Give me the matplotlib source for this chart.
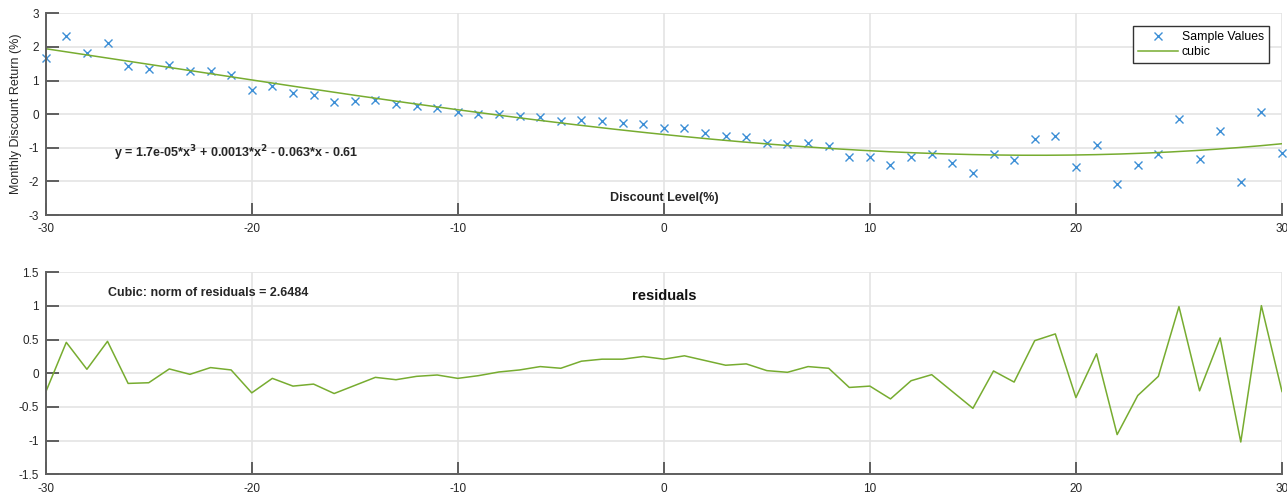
import numpy as np
import matplotlib
matplotlib.use("Agg")
import matplotlib.pyplot as plt

plt.rcParams['font.family'] = ['Liberation Sans', 'DejaVu Sans']
plt.rcParams['axes.unicode_minus'] = False

# ---- data ----
discount = list(range(-30, 31))
sample_values = [
    1.66, 2.32, 1.81, 2.12, 1.43, 1.34, 1.46, 1.28, 1.28, 1.16,
    0.71, 0.83, 0.62, 0.56, 0.35, 0.40, 0.43, 0.31, 0.24, 0.19,
    0.06, 0.00, 0.00, -0.05, -0.08, -0.20, -0.16, -0.20, -0.27, -0.30,
    -0.41, -0.41, -0.56, -0.66, -0.69, -0.85, -0.90, -0.87, -0.94, -1.27,
    -1.27, -1.50, -1.27, -1.19, -1.45, -1.75, -1.19, -1.37, -0.73, -0.645,
    -1.57, -0.92, -2.09, -1.51, -1.19, -0.15, -1.34, -0.50, -2.01, 0.06,
    -1.15,
]
residuals = [
    -0.28, 0.46, 0.06, 0.475, -0.15, -0.14, 0.065, -0.015, 0.085, 0.05,
    -0.29, -0.075, -0.19, -0.16, -0.30, -0.18, -0.06, -0.095, -0.045, -0.025,
    -0.075, -0.035, 0.02, 0.05, 0.10, 0.075, 0.18, 0.21, 0.21, 0.25,
    0.21, 0.26, 0.19, 0.12, 0.14, 0.04, 0.015, 0.10, 0.075, -0.21,
    -0.19, -0.38, -0.11, -0.02, -0.27, -0.52, 0.035, -0.13, 0.485, 0.585,
    -0.36, 0.29, -0.91, -0.33, -0.045, 0.99, -0.26, 0.525, -1.02, 1.005,
    -0.27,
]
x_ticks = [-30, -20, -10, 0, 10, 20, 30]
x_tick_labels = ['-30', '-20', '-10', '0', '10', '20', '30']
y1_ticks = [-3, -2, -1, 0, 1, 2, 3]
y1_tick_labels = ['-3', '-2', '-1', '0', '1', '2', '3']
y2_ticks = [-1.5, -1, -0.5, 0, 0.5, 1, 1.5]
y2_tick_labels = ['-1.5', '-1', '-0.5', '0', '0.5', '1', '1.5']
equation_text = r'y = 1.7e-05*x$^{\mathbf{3}}$ + 0.0013*x$^{\mathbf{2}}$ - 0.063*x - 0.61'
norm_text = 'Cubic: norm of residuals = 2.6484'

BLUE = '#3d8fd6'
GREEN = '#77ac30'
SPINE = '#5e5e5e'
GRID = '#e4e4e4'
TXT = '#262626'

fig = plt.figure(figsize=(12.87, 4.96), dpi=100)
ax1 = fig.add_axes([0.0355, 0.5665, 0.9606, 0.4067])
ax2 = fig.add_axes([0.0355, 0.0437, 0.9606, 0.4073])


def style(ax, yt, ytl):
    ax.set_xlim(-30, 30)
    ax.set_xticks(x_ticks)
    ax.set_xticklabels(x_tick_labels)
    ax.set_yticks(yt)
    ax.set_yticklabels(ytl)
    ax.set_ylim(yt[0], yt[-1])
    for s in ['top', 'right']:
        ax.spines[s].set_visible(False)
    for s in ['left', 'bottom']:
        ax.spines[s].set_color(SPINE)
        ax.spines[s].set_linewidth(1.4)
    ax.tick_params(direction='in', length=9, width=1.4, color=SPINE,
                   labelcolor=TXT, labelsize=8.5)
    ax.tick_params(axis='x', pad=6)
    ax.tick_params(axis='y', pad=5)
    ax.set_axisbelow(True)
    ax.grid(True, color=GRID, linewidth=1.2)


# ---- top panel ----
style(ax1, y1_ticks, y1_tick_labels)
coef = np.polyfit(discount, sample_values, 3)
xs = np.linspace(-30, 30, 400)
ax1.plot(discount, sample_values, linestyle='none', marker='x', color=BLUE,
         markersize=6, markeredgewidth=1.0, label='Sample Values', clip_on=False)
ax1.plot(xs, np.polyval(coef, xs), color=GREEN, linewidth=1.1, label='cubic')
ax1.text(-26.7, -1.17, equation_text, fontsize=9, fontweight='bold',
         ha='left', va='center', color=TXT)
ax1.text(0, -2.48, 'Discount Level(%)', fontsize=9, fontweight='bold',
         ha='center', va='center', color=TXT)
ax1.set_ylabel('Monthly Discount Return (%)', fontsize=9, color=TXT)
ax1.yaxis.set_label_coords(-0.0192, 0.5)
leg = ax1.legend(loc='upper right', bbox_to_anchor=(0.9895, 0.937),
                 borderaxespad=0, fontsize=8.8, fancybox=False, framealpha=1,
                 edgecolor='#333333', handlelength=3.3, handletextpad=0.3,
                 labelspacing=0.25, borderpad=0.4)
leg.get_frame().set_linewidth(1.0)

# ---- bottom panel ----
style(ax2, y2_ticks, y2_tick_labels)
ax2.plot(discount, residuals, color=GREEN, linewidth=1.1)
ax2.text(-26.96, 1.20, norm_text, fontsize=9, fontweight='bold',
         ha='left', va='center', color=TXT)
ax2.text(0, 1.155, 'residuals', fontsize=10.5, fontweight='bold',
         ha='center', va='center', color='#111111')

fig.savefig('out.png', dpi=100)
